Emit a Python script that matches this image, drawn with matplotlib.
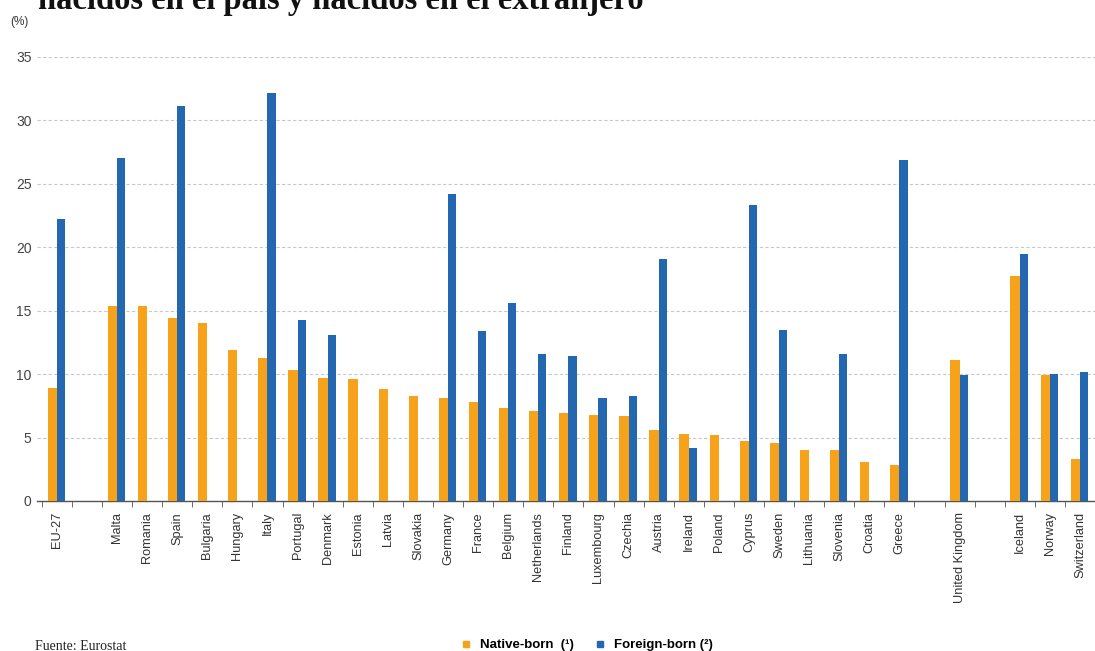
import matplotlib
matplotlib.use("Agg")
import matplotlib.pyplot as plt
from matplotlib.lines import Line2D
import numpy as np

plt.rcParams['font.family'] = ['Liberation Sans', 'DejaVu Sans']

# Countries (None = empty separator slot)
countries = ["EU-27", None, "Malta", "Romania", "Spain", "Bulgaria", "Hungary", "Italy",
             "Portugal", "Denmark", "Estonia", "Latvia", "Slovakia", "Germany", "France",
             "Belgium", "Netherlands", "Finland", "Luxembourg", "Czechia", "Austria",
             "Ireland", "Poland", "Cyprus", "Sweden", "Lithuania", "Slovenia", "Croatia",
             "Greece", None, "United Kingdom", None, "Iceland", "Norway", "Switzerland"]

native_born = [8.9, None, 15.4, 15.4, 14.4, 14.0, 11.9, 11.3,
               10.3, 9.7, 9.6, 8.8, 8.3, 8.1, 7.8,
               7.3, 7.1, 6.9, 6.8, 6.7, 5.6,
               5.3, 5.2, 4.7, 4.6, 4.0, 4.0, 3.1,
               2.8, None, 11.1, None, 17.7, 9.9, 3.3]

foreign_born = [22.2, None, 27.0, None, 31.1, None, None, 32.2,
                14.3, 13.1, None, None, None, 24.2, 13.4,
                15.6, 11.6, 11.4, 8.1, 8.3, 19.1,
                4.2, None, 23.3, 13.5, None, 11.6, None,
                26.9, None, 9.9, None, 19.5, 10.0, 10.2]

legend_labels = ["Native-born  (\u00b9)", "Foreign-born (\u00b2)"]
y_ticks = [0, 5, 10, 15, 20, 25, 30, 35]

ORANGE = "#F7A21B"
BLUE = "#2367B1"

W, H = 1095, 651
fig = plt.figure(figsize=(W / 100, H / 100), dpi=100)
fig.patch.set_facecolor("white")

ax = fig.add_axes([37 / W, (H - 501) / H, 1 - 37 / W, (501 - 57) / H])

x = np.arange(len(countries))
nb = np.array([np.nan if v is None else v for v in native_born])
fb = np.array([np.nan if v is None else v for v in foreign_born])

# native-born to the left of each slot centre, foreign-born to the right
ax.bar(x - 0.31, nb, width=0.31, align="edge", color=ORANGE, zorder=3)
ax.bar(x, fb, width=0.27, align="edge", color=BLUE, zorder=3)

ax.set_ylim(0, 35)
ax.set_xlim(-0.66, 34.37)
ax.set_yticks(y_ticks)
ax.yaxis.grid(True, color="#c8c8c8", linestyle=(0, (3, 2)), linewidth=0.8, zorder=0)
ax.set_axisbelow(True)

for s in ["top", "right", "left"]:
    ax.spines[s].set_visible(False)
ax.spines["bottom"].set_color("#555555")
ax.spines["bottom"].set_linewidth(1.0)

ax.tick_params(axis="y", length=0, labelsize=10, labelcolor="#444444", pad=4)

# category labels at slot centres, tick marks at slot boundaries
ax.set_xticks(x)
ax.set_xticklabels([c if c else "" for c in countries], rotation=90, fontsize=9.2,
                   color="#333333")
ax.tick_params(axis="x", which="major", length=0, pad=8)
ax.set_xticks(np.arange(-0.5, len(countries), 1.0), minor=True)
ax.tick_params(axis="x", which="minor", length=4, color="#555555", direction="out")

# title (first line runs off the top)
fig.text(38 / W, 1 - 9 / H, "nacidos en el país y nacidos en el extranjero",
         family="Liberation Serif", weight="bold", fontsize=23.5, va="baseline", ha="left",
         color="#111111")
fig.text(10 / W, 1 - 22 / H, "(%)", fontsize=8.5, color="#333333", va="center", ha="left")

fig.text(35 / W, 1 - 646 / H, "Fuente: Eurostat", family="Liberation Serif", fontsize=10,
         va="center", ha="left", color="#222222")

handles = [Line2D([], [], marker="s", linestyle="", markersize=5, color=ORANGE),
           Line2D([], [], marker="s", linestyle="", markersize=5, color=BLUE)]
fig.legend(handles, legend_labels, loc="center", bbox_to_anchor=(583 / W, 1 - 645 / H),
           ncol=2, frameon=False, handletextpad=0.05, columnspacing=1.0,
           prop={"weight": "bold", "size": 9.5})

fig.savefig("out.png", dpi=100, facecolor="white")
